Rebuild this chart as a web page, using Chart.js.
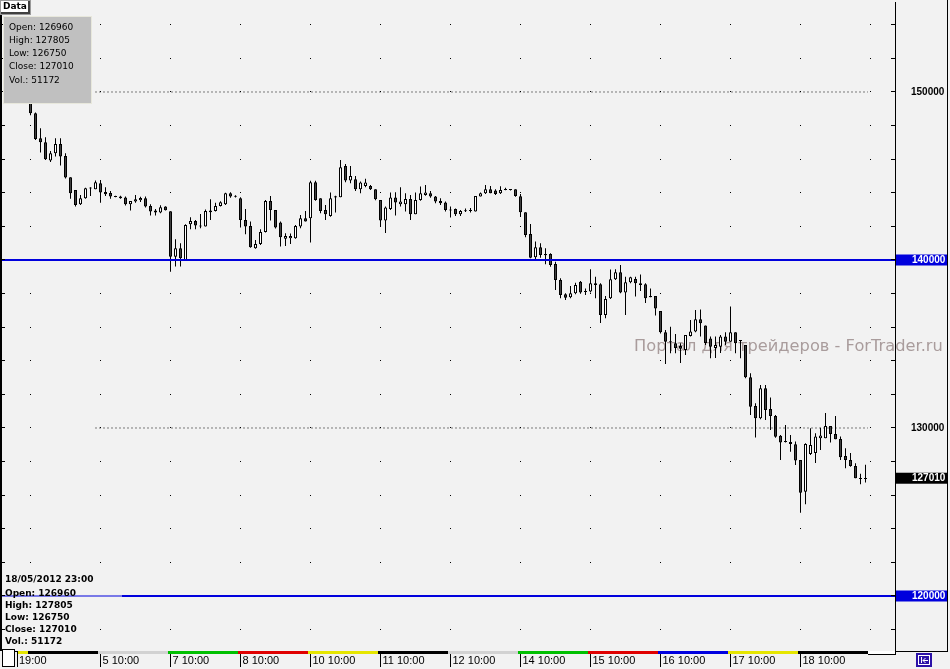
<!DOCTYPE html>
<html>
<head>
<meta charset="utf-8">
<script src="https://cdn.jsdelivr.net/npm/chart.js@4.4.1/dist/chart.umd.min.js"></script>
<style>
  html, body { margin: 0; padding: 0; background: #f2f2f2; }
  canvas { display: block; }
</style>
</head>
<body>
<canvas id="grafico" width="950" height="669"></canvas>
<script>
// RTS futures, hourly candles, 4-18 May 2012 (14 bars a day, 10:00-23:00)
const opens = [
  150300,148732,147244,147006,145917,146357,146905,146190,144929,144167,
  143321,143679,144300,144214,144571,144048,143988,143810,143774,143714,
  143321,143476,143550,143679,143214,142940,142821,143179,142900,140197,
  140696,140000,142131,142321,142030,141988,142845,142917,143214,143321,
  143976,143790,143679,142381,142024,140696,140952,141667,143512,142976,
  142226,141270,141290,141290,142000,142480,142480,144624,143679,142976,
  142620,143720,143740,145595,144726,144810,144214,144410,144410,144214,
  143571,142345,143036,143714,143320,143321,143631,142720,143571,143869,
  143976,143774,143512,143417,143000,143036,142720,142900,142920,142881,
  143774,143976,144214,144130,143976,144170,144200,144214,143790,142845,
  141548,140159,140754,140360,140360,139762,138810,137960,137780,138020,
  138710,138150,138120,138610,138560,136726,137730,138850,139270,138060,
  138680,138870,138610,138560,137860,137860,136970,135700,135100,135050,
  134880,134650,135480,135740,136470,136100,135330,134760,134840,135440,
  135140,135700,135240,134940,133020,131310,130580,132360,131130,130710,
  129540,129200,129170,129030,128100,126210,128450,128510,129390,129390,
  130120,129640,129350,128330,128100,127740,127020,126960
];
const highs = [
  150600,148780,147839,147310,146488,147244,147244,146357,144929,144167,
  143869,144300,144333,144726,144762,144333,144107,143830,143830,143774,
  143512,143869,143770,143774,143321,143036,143262,143200,142900,141238,
  140994,142125,142540,142380,142740,143000,143610,143410,143500,144000,
  144036,143850,143740,143036,142286,141190,141833,143571,143810,142976,
  142286,141590,141570,142080,142680,142917,144710,144710,143679,143270,
  144012,143820,145950,145715,145595,145000,144667,144830,144470,144214,
  143571,143179,144012,144036,144333,143970,143869,144012,144370,144470,
  144100,143810,143679,143476,143179,143060,142976,143060,143100,143810,
  144012,144470,144410,144214,144390,144300,144214,144214,143930,142845,
  142143,141095,140990,140700,140400,139900,138910,138020,138450,138650,
  138750,138310,139450,139010,138610,137860,139440,139450,139700,139010,
  139010,139010,139140,138610,138310,137860,136970,135830,136030,135600,
  135050,135540,136430,137020,137060,136100,135440,135440,135540,135700,
  137230,135700,135240,134940,133260,131480,132560,132560,131810,130770,
  129580,130180,129580,129190,128100,129090,129980,129690,130020,130890,
  130120,130710,129490,128790,128510,127900,127270,127805
];
const lows = [
  148613,147143,146393,145950,145833,146155,145619,144845,143649,143179,
  143274,143650,143810,144214,143411,143810,143649,143730,143650,143240,
  142940,143411,143450,143120,142643,142643,142780,142940,139304,139607,
  139607,140000,141830,141830,141890,141988,142380,142880,143180,143274,
  143700,143720,141930,141530,140734,140670,140893,141640,142345,141870,
  140810,140830,140950,141270,141890,142290,141040,143530,142780,142380,
  142580,142820,143740,144630,144571,144100,143980,144330,144170,143550,
  142024,141600,142976,142645,143180,142880,142380,142720,143530,143830,
  143700,143380,143274,142881,142524,142620,142620,142850,142820,142881,
  143774,143930,143976,143870,143930,144150,144130,143770,142560,141357,
  140100,140000,140139,139750,139600,138214,137720,137620,137720,137960,
  137990,137920,138060,137720,136250,136530,137680,138810,138020,136730,
  138620,137820,138160,137440,137780,136690,135630,133810,134450,134450,
  133870,134350,135440,135700,135440,134940,134150,134170,134460,134940,
  135140,134450,134150,132960,130770,129430,130520,130480,129880,129420,
  128100,129130,128590,127800,124960,125460,128390,127910,128690,129390,
  129130,129330,128100,127600,127700,127010,126650,126750
];
const closes = [
  148732,147202,147006,146000,146357,146905,146155,144905,143976,143274,
  143679,144274,144250,144631,144012,143910,143774,143750,143679,143321,
  143512,143614,143690,143179,142881,142821,143143,142964,140197,140696,
  140101,142083,142321,142060,141990,142917,142940,143214,143440,143976,
  143774,143760,142381,141988,140756,140952,141667,143512,142976,141930,
  141357,141430,141430,142024,142480,142290,144624,143571,142917,142720,
  143679,143790,145524,144726,145000,144214,144607,144607,144214,143619,
  142345,143119,143714,143417,143480,143631,142720,143571,143976,144012,
  143774,143476,143380,142976,142940,142720,142917,142940,142960,143810,
  143976,144214,143976,143930,144167,144214,144160,143810,142845,141488,
  140139,140754,140300,140290,139700,138810,137917,137760,138020,138512,
  138060,138090,138613,138510,136726,137680,138850,139270,138060,138680,
  138980,138610,138510,137720,137780,137120,135700,135140,135160,134760,
  134720,135540,135740,136470,136230,135060,134840,134940,135440,135140,
  135700,135050,135180,133020,131270,130580,132360,131070,130710,129480,
  129130,129170,129050,128060,126150,129050,128990,129490,129550,130120,
  129640,129330,128260,128100,127740,127010,126960,127010
];
const lastVolume = 51172;
const lastTime = '18/05/2012 23:00';

// time axis: one label per trading day
const barsPerDay = 14;
const dayTickPos = [-2.7, 14, 28, 42, 56, 70, 84, 98, 112, 126, 140, 154];
const dayTickLabels = ['19:00', '5 10:00', '7 10:00', '8 10:00', '10 10:00', '11 10:00',
  '12 10:00', '14 10:00', '15 10:00', '16 10:00', '17 10:00', '18 10:00'];
// weekday colour strip (first entry = tail of 3 May)
const dayColors = ['#e6e600', '#000000', '#d2d2d2', '#00c000', '#e00000', '#e6e600', '#000000',
  '#d2d2d2', '#00c000', '#e00000', '#0000e0', '#e6e600', '#000000'];

// price axis
const yTicks = [118000, 120000, 122000, 124000, 126000, 128000, 130000, 132000, 134000, 136000,
  138000, 140000, 142000, 144000, 146000, 148000, 150000, 152000, 154000];
const priceLabels = [150000, 130000];
const blueLevels = [140000, 120000];
const dottedLevels = [150000, 130000];

const watermark = 'Портал для трейдеров - ForTrader.ru';

const xMin = -5.7, xMax = 172.9;
const yMin = 116726, yMax = 155357;
const n = closes.length;

const bodies = closes.map((c, i) => ({ x: i, y: [opens[i], c] }));
const wicks = closes.map((c, i) => ({ x: i, y: [lows[i], highs[i]] }));
const bodyFill = closes.map((c, i) => c < opens[i] ? '#404040' : '#ffffff');

const axisFont = 'bold 10px "Liberation Sans"';

const chrome = {
  id: 'chrome',
  beforeDraw(chart) {
    const { ctx, width, height } = chart;
    ctx.save();
    ctx.fillStyle = '#f2f2f2';
    ctx.fillRect(0, 0, width, height);
    ctx.font = '16px "DejaVu Sans"';
    const w = ctx.measureText(watermark).width;
    ctx.font = (16 * 309 / w).toFixed(2) + 'px "DejaVu Sans"';
    ctx.fillStyle = '#a99c9c';
    ctx.textBaseline = 'alphabetic';
    ctx.fillText(watermark, 634, 351);
    ctx.restore();
  },
  afterDraw(chart) {
    const { ctx, chartArea: a, scales: { x, y } } = chart;
    ctx.save();

    // 120000 line is paler behind the data block
    const y120 = y.getPixelForValue(blueLevels[1]);
    ctx.fillStyle = 'rgba(242,242,242,0.5)';
    ctx.fillRect(a.left, y120 - 1, 120, 2);

    // small ticks on both edges of the plot
    ctx.strokeStyle = '#000';
    ctx.lineWidth = 1;
    ctx.beginPath();
    yTicks.forEach(v => {
      const p = Math.round(y.getPixelForValue(v) - 0.5) + 0.5;
      ctx.moveTo(a.left, p); ctx.lineTo(a.left + 3, p);
      ctx.moveTo(a.right - 4, p); ctx.lineTo(a.right, p);
    });
    ctx.stroke();

    // frame
    ctx.fillStyle = '#000';
    ctx.fillRect(0, 0, 2, a.bottom);
    ctx.fillRect(947, 0, 1, a.bottom + 1);
    ctx.fillRect(a.right, a.bottom, 53, 1);

    // price boxes on the right scale
    const box = (v, bg) => {
      const p = y.getPixelForValue(v);
      ctx.fillStyle = bg;
      ctx.fillRect(a.right + 1, p - 5.5, 51, 11);
      ctx.fillStyle = '#fff';
      ctx.font = axisFont;
      ctx.textBaseline = 'middle';
      ctx.textAlign = 'left';
      ctx.fillText(String(v), 912, p + 0.5);
    };
    blueLevels.forEach(v => box(v, '#0000dd'));
    box(closes[n - 1], '#000000');

    // weekday strip under the plot
    dayColors.forEach((c, k) => {
      const from = k === 0 ? -2.5 : (k - 1) * barsPerDay - 0.5;
      const to = k === 0 ? -0.5 : k * barsPerDay - 0.5;
      const x0 = x.getPixelForValue(from), x1 = x.getPixelForValue(to);
      ctx.fillStyle = c;
      ctx.fillRect(x0, a.bottom, x1 - x0, 3);
    });
    const xEnd = x.getPixelForValue((dayColors.length - 1) * barsPerDay - 0.5);
    ctx.fillStyle = '#fff';
    ctx.fillRect(xEnd, a.bottom, a.right - xEnd, 3);
    ctx.fillStyle = '#000';
    ctx.fillRect(xEnd, a.bottom + 3, a.right - xEnd + 1, 1);
    ctx.fillRect(a.right, a.bottom, 1, 4);

    // little white box at the start of the time axis
    ctx.fillStyle = '#fff';
    ctx.fillRect(2, 649, 13, 18);
    ctx.strokeStyle = '#000';
    ctx.strokeRect(2.5, 649.5, 12, 17);

    // scroll icon
    ctx.fillStyle = '#2c12a8';
    ctx.fillRect(916, 653, 16, 14);
    ctx.strokeStyle = '#fff';
    ctx.strokeRect(918.5, 655.5, 11, 9);
    ctx.beginPath();
    ctx.moveTo(921.5, 657); ctx.lineTo(921.5, 663);
    ctx.moveTo(923, 660.5); ctx.lineTo(928, 660.5);
    ctx.moveTo(925.5, 658); ctx.lineTo(923, 660.5); ctx.lineTo(925.5, 663);
    ctx.stroke();

    // bottom-left data block
    ctx.fillStyle = '#000';
    ctx.font = 'bold 9px "DejaVu Sans"';
    ctx.textAlign = 'left';
    ctx.textBaseline = 'middle';
    const info = ['Open: ' + opens[n - 1], 'High: ' + highs[n - 1], 'Low: ' + lows[n - 1],
      'Close: ' + closes[n - 1], 'Vol.: ' + lastVolume];
    ctx.fillText(lastTime, 5, 580);
    info.forEach((t, i) => ctx.fillText(t, 5, 594 + i * 12));

    // "Data" tab
    ctx.fillStyle = '#9a9a9a';
    ctx.fillRect(0, 0, 31, 15);
    ctx.fillStyle = '#404040';
    ctx.fillRect(1, 1, 29, 13);
    ctx.fillStyle = '#ffffff';
    ctx.fillRect(1, 1, 27, 11);
    ctx.fillStyle = '#000';
    ctx.font = 'bold 9px "DejaVu Sans"';
    ctx.fillText('Data', 3, 7);

    // grey data window
    ctx.fillStyle = '#c0c0c0';
    ctx.fillRect(3, 16, 89, 88);
    ctx.strokeStyle = '#e8e8dc';
    ctx.strokeRect(3.5, 16.5, 88, 87);
    ctx.fillStyle = '#000';
    ctx.font = '9px "DejaVu Sans"';
    info.forEach((t, i) => ctx.fillText(t, 9, 27.5 + i * 13.2));

    ctx.restore();
  }
};

// keep the plot box where the terminal puts it
const noPad = ax => { ax.paddingTop = 0; ax.paddingBottom = 0; ax.paddingLeft = 0; ax.paddingRight = 0; };

new Chart(document.getElementById('grafico').getContext('2d'), {
  type: 'bar',
  data: {
    datasets: [
      ...blueLevels.map(v => ({
        type: 'line', data: [{ x: xMin, y: v }, { x: xMax, y: v }],
        borderColor: '#0000dd', borderWidth: 2, pointRadius: 0, order: 0
      })),
      ...dottedLevels.map(v => ({
        type: 'line', data: [{ x: 13, y: v }, { x: n - 0.5, y: v }],
        borderColor: '#000', borderWidth: 1, borderDash: [1, 3], pointRadius: 0, order: 0
      })),
      {
        label: 'body', data: bodies, backgroundColor: bodyFill, borderColor: '#000',
        borderWidth: 1, borderSkipped: false, barThickness: 3, grouped: false,
        minBarLength: 1, inflateAmount: 0, order: 1
      },
      {
        label: 'wick', data: wicks, backgroundColor: '#000', borderWidth: 0,
        barThickness: 1, grouped: false, inflateAmount: 0, order: 2
      }
    ]
  },
  options: {
    responsive: false,
    animation: false,
    events: [],
    layout: { padding: { left: 2, right: 3, top: 2, bottom: 1 } },
    plugins: { legend: { display: false }, tooltip: { enabled: false } },
    scales: {
      x: {
        type: 'linear', position: 'bottom', min: xMin, max: xMax, offset: false,
        afterBuildTicks: ax => { ax.ticks = dayTickPos.map(v => ({ value: v })); },
        afterFit: ax => { ax.height = 17; noPad(ax); },
        grid: { display: true, offset: false, drawOnChartArea: false, drawTicks: true,
          tickLength: 16, color: '#000', tickColor: '#000' },
        border: { display: true, color: '#000', width: 1 },
        ticks: {
          autoSkip: false, maxRotation: 0, minRotation: 0, align: 'start', labelOffset: 2,
          padding: -13, color: '#000', font: { family: 'Liberation Sans', size: 11 },
          callback: (v, i) => dayTickLabels[i]
        }
      },
      y: {
        type: 'linear', position: 'right', min: yMin, max: yMax,
        afterBuildTicks: ax => { ax.ticks = yTicks.map(v => ({ value: v })); },
        afterFit: ax => { ax.width = 52; noPad(ax); },
        grid: { display: true, drawOnChartArea: true, drawTicks: false, color: '#000', lineWidth: 1 },
        border: { display: true, color: '#000', width: 1, dash: [1, 69], dashOffset: 42 },
        ticks: {
          autoSkip: false, padding: 16, color: '#000',
          font: { family: 'Liberation Sans', size: 10, weight: 'bold' },
          callback: v => priceLabels.includes(v) ? String(v) : ''
        }
      }
    }
  },
  plugins: [chrome]
});
</script>
</body>
</html>
